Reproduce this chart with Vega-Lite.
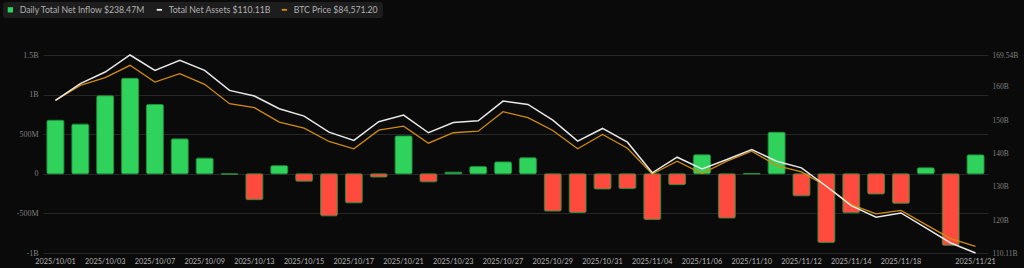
{
  "$schema": "https://vega.github.io/schema/vega-lite/v6.json",
  "autosize": "none",
  "width": 945,
  "height": 198,
  "padding": {"left": 43, "top": 55, "right": 36, "bottom": 15},
  "background": "#0a0a0a",
  "config": {
    "view": {"stroke": null},
    "axis": {"domain": false, "ticks": false, "grid": false, "labelColor": "#7a7a7a"}
  },
  "data": {
    "values": [
      {"date": "2025/10/01", "inflow": 675.8, "tna": 155.92, "btc": 118608},
      {"date": "2025/10/02", "inflow": 627.0, "tna": 160.94, "btc": 122115},
      {"date": "2025/10/03", "inflow": 985.1, "tna": 164.43, "btc": 123915},
      {"date": "2025/10/06", "inflow": 1205.0, "tna": 169.54, "btc": 126791},
      {"date": "2025/10/07", "inflow": 875.6, "tna": 164.94, "btc": 122886},
      {"date": "2025/10/08", "inflow": 440.7, "tna": 167.95, "btc": 124850},
      {"date": "2025/10/09", "inflow": 197.8, "tna": 164.94, "btc": 122349},
      {"date": "2025/10/10", "inflow": -4.5, "tna": 158.92, "btc": 117836},
      {"date": "2025/10/13", "inflow": -326.5, "tna": 157.21, "btc": 116901},
      {"date": "2025/10/14", "inflow": 102.6, "tna": 153.42, "btc": 113534},
      {"date": "2025/10/15", "inflow": -94.0, "tna": 151.19, "btc": 112131},
      {"date": "2025/10/16", "inflow": -530.9, "tna": 146.38, "btc": 109022},
      {"date": "2025/10/17", "inflow": -366.6, "tna": 143.89, "btc": 107315},
      {"date": "2025/10/20", "inflow": -40.5, "tna": 149.51, "btc": 111664},
      {"date": "2025/10/21", "inflow": 477.2, "tna": 151.49, "btc": 112599},
      {"date": "2025/10/22", "inflow": -101.3, "tna": 146.2, "btc": 108624},
      {"date": "2025/10/23", "inflow": 20.3, "tna": 149.3, "btc": 111056},
      {"date": "2025/10/24", "inflow": 90.6, "tna": 149.81, "btc": 111430},
      {"date": "2025/10/27", "inflow": 149.3, "tna": 155.71, "btc": 115966},
      {"date": "2025/10/28", "inflow": 202.5, "tna": 154.71, "btc": 114563},
      {"date": "2025/10/29", "inflow": -470.7, "tna": 149.99, "btc": 111594},
      {"date": "2025/10/30", "inflow": -488.4, "tna": 143.67, "btc": 107315},
      {"date": "2025/10/31", "inflow": -191.6, "tna": 147.49, "btc": 110659},
      {"date": "2025/11/03", "inflow": -186.5, "tna": 143.37, "btc": 107455},
      {"date": "2025/11/04", "inflow": -577.7, "tna": 134.17, "btc": 101423},
      {"date": "2025/11/05", "inflow": -137.0, "tna": 138.86, "btc": 104416},
      {"date": "2025/11/06", "inflow": 239.9, "tna": 135.37, "btc": 101540},
      {"date": "2025/11/07", "inflow": -558.4, "tna": 138.17, "btc": 104416},
      {"date": "2025/11/10", "inflow": 1.2, "tna": 141.18, "btc": 106754},
      {"date": "2025/11/11", "inflow": 524.0, "tna": 137.66, "btc": 103411},
      {"date": "2025/11/12", "inflow": -278.0, "tna": 135.67, "btc": 101938},
      {"date": "2025/11/13", "inflow": -866.7, "tna": 130.14, "btc": 98571},
      {"date": "2025/11/14", "inflow": -492.1, "tna": 124.34, "btc": 94293},
      {"date": "2025/11/17", "inflow": -254.5, "tna": 120.88, "btc": 92142},
      {"date": "2025/11/18", "inflow": -372.7, "tna": 122.14, "btc": 92960},
      {"date": "2025/11/19", "inflow": 75.5, "tna": 117.63, "btc": 89617},
      {"date": "2025/11/20", "inflow": -903.1, "tna": 113.12, "btc": 86343},
      {"date": "2025/11/21", "inflow": 238.5, "tna": 110.11, "btc": 84571.2}
    ]
  },
  "encoding": {
    "x": {
      "field": "date", "type": "ordinal", "sort": null,
      "scale": {"type": "band", "paddingInner": 0.32, "paddingOuter": 0.16},
      "axis": {
        "title": null, "labelAngle": 0, "labelPadding": 4,
        "values": ["2025/10/01","2025/10/03","2025/10/07","2025/10/09","2025/10/13","2025/10/15","2025/10/17","2025/10/21","2025/10/23","2025/10/27","2025/10/29","2025/10/31","2025/11/04","2025/11/06","2025/11/10","2025/11/12","2025/11/14","2025/11/18","2025/11/21"],
        "labelFont": "Lato", "labelFontSize": 7.3, "labelColor": "#b5b5b5", "labelOverlap": false
      }
    }
  },
  "layer": [
    {
      "mark": {"type": "bar", "cornerRadius": 1.5, "strokeWidth": 0.8},
      "encoding": {
        "y": {
          "field": "inflow", "type": "quantitative",
          "scale": {"domain": [-1000, 1500], "nice": false, "zero": false},
          "axis": {
            "title": null, "orient": "left", "grid": true, "gridColor": "#262626", "gridWidth": 1,
            "values": [-1000, -500, 0, 500, 1000, 1500],
            "labelExpr": "datum.value == 0 ? '0' : (abs(datum.value) >= 1000 ? (datum.value / 1000) + 'B' : datum.value + 'M')",
            "labelFont": "Liberation Serif", "labelFontSize": 8, "labelColor": "#808080", "labelPadding": 5
          }
        },
        "fill": {"condition": {"test": "datum.inflow < 0", "value": "#ff4a3e"}, "value": "#2fd25a"},
        "stroke": {"condition": {"test": "datum.inflow < 0", "value": "#d93a30"}, "value": "#25a848"}
      }
    },
    {
      "mark": {"type": "line", "strokeWidth": 1.3},
      "encoding": {
        "y": {"field": "btc", "type": "quantitative", "scale": {"domain": [83000, 129200], "nice": false, "zero": false}, "axis": null},
        "color": {
          "datum": "BTC Price",
          "scale": {"domain": ["Daily Total Net Inflow", "Total Net Assets", "BTC Price"], "range": ["#2fd25a", "#e8e8e8", "#d08c0c"]},
          "legend": {
            "orient": "none", "legendX": -40, "legendY": -53, "direction": "horizontal",
            "title": null, "fillColor": "#1d1d1d", "cornerRadius": 3, "padding": 3,
            "labelColor": "#b0b0b0", "labelFont": "Lato", "labelFontSize": 8.7, "labelLimit": 300,
            "symbolSize": 28, "columnPadding": 7, "labelOffset": 5,
            "labelExpr": "datum.label == 'Daily Total Net Inflow' ? datum.label + '  $238.47M' : (datum.label == 'Total Net Assets' ? datum.label + '  $110.11B' : datum.label + '  $84,571.20')",
            "encode": {
              "symbols": {
                "update": {
                  "shape": {"signal": "datum.value == 'Daily Total Net Inflow' ? 'square' : 'M-1,-0.35H1V0.35H-1Z'"},
                  "fill": {"signal": "scale('color', datum.value)"},
                  "fillOpacity": {"value": 1},
                  "strokeWidth": {"value": 0}
                }
              }
            }
          }
        }
      }
    },
    {
      "mark": {"type": "line", "strokeWidth": 1.5},
      "encoding": {
        "y": {
          "field": "tna", "type": "quantitative",
          "scale": {"domain": [110.11, 169.54], "nice": false, "zero": false},
          "axis": {
            "title": null, "orient": "right", "grid": false,
            "values": [110.11, 120, 130, 140, 150, 160, 169.54],
            "labelExpr": "datum.value + 'B'",
            "labelFont": "Liberation Serif", "labelFontSize": 7.5, "labelColor": "#808080", "labelPadding": 4
          }
        },
        "color": {"datum": "Total Net Assets"}
      }
    }
  ],
  "resolve": {"scale": {"y": "independent"}}
}
